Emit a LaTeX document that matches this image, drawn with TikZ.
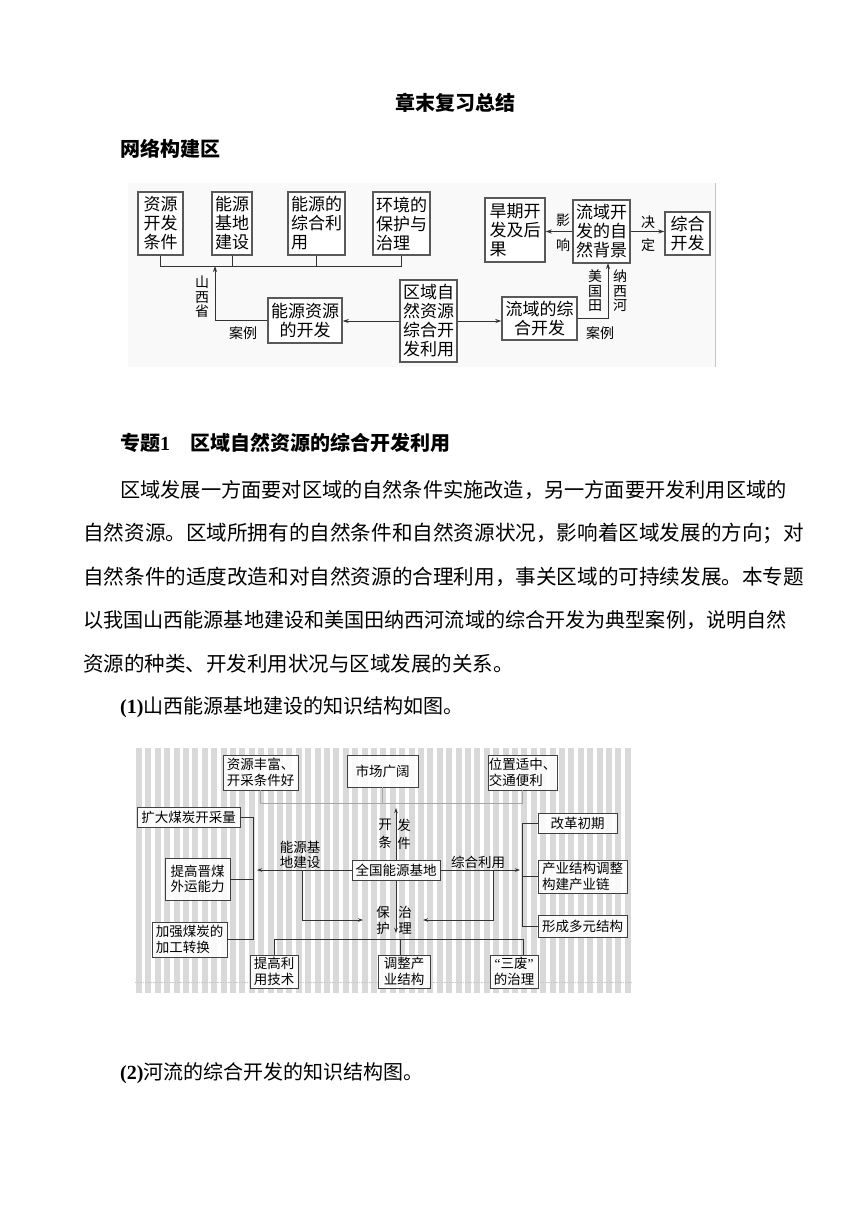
\documentclass[tikz,border=0pt]{standalone}
\usepackage{fontspec}
\setmainfont{Liberation Serif}
\newfontfamily\cjk{Noto Sans CJK SC}
\usetikzlibrary{arrows.meta}
\begin{document}
\begin{tikzpicture}[x=1pt,y=-1pt,
  tx/.style={inner sep=0pt, anchor=west},
  b1/.style={draw=black!65, line width=1.4pt, fill=white, inner sep=0pt, font=\cjk\fontsize{17}{19}\selectfont},
  l1/.style={inner sep=0pt, font=\cjk\fontsize{14}{14.5}\selectfont, align=center},
  c1/.style={draw=black!80, line width=1pt},
  a1/.style={c1, -{Stealth[length=6pt,width=4pt]}},
  b2/.style={draw=black!75, line width=0.9pt, fill=white, fill opacity=0.85, text opacity=1, inner sep=0pt, font=\cjk\fontsize{13.5}{15.5}\selectfont},
  l2/.style={inner sep=0pt, font=\cjk\fontsize{13.5}{15}\selectfont, align=center},
  c2/.style={draw=black!80, line width=0.8pt},
  a2/.style={c2, -{Stealth[length=5pt,width=3.5pt]}}]
\useasboundingbox (0,0) rectangle (860,1216);
\fill[white] (0,0) rectangle (860,1216);

% ---------- headings and text ----------
\node[inner sep=0pt, font=\cjk\bfseries\fontsize{20}{24}\selectfont] (title) at (455,103) {章末复习总结};
\node[tx, font=\cjk\bfseries\fontsize{20}{24}\selectfont] (net) at (120,149) {网络构建区};
\node[tx, font=\bfseries\fontsize{20}{24}\selectfont] (topic) at (120,443) {{\cjk 专题}1\hspace{20pt}{\cjk 区域自然资源的综合开发利用}};
\node[tx, font=\cjk\fontsize{20.2}{24}\selectfont] (p1) at (120,490) {区域发展一方面要对区域的自然条件实施改造，另一方面要开发利用区域的};
\node[tx, font=\cjk\fontsize{20.6}{24}\selectfont] (p2) at (83,533.5) {自然资源。区域所拥有的自然条件和自然资源状况，影响着区域发展的方向；对};
\node[tx, font=\cjk\fontsize{20.6}{24}\selectfont] (p3) at (83,577) {自然条件的适度改造和对自然资源的合理利用，事关区域的可持续发展。本专题};
\node[tx, font=\cjk\fontsize{20.1}{24}\selectfont] (p4) at (83,620) {以我国山西能源基地建设和美国田纳西河流域的综合开发为典型案例，说明自然};
\node[tx, font=\cjk\fontsize{20.5}{24}\selectfont] (p5) at (83,663.5) {资源的种类、开发利用状况与区域发展的关系。};
\node[tx, font=\fontsize{20}{24}\selectfont] (h1) at (120,707) {\textbf{(1)}{\cjk 山西能源基地建设的知识结构如图。}};
\node[tx, font=\fontsize{20}{24}\selectfont] (h2) at (120,1073) {\textbf{(2)}{\cjk 河流的综合开发的知识结构图。}};

% ---------- diagram 1 ----------
\fill[gray!5] (128,183) rectangle (715,367);
\draw[gray!45, line width=1pt] (715,183) -- (715,367);

\node[b1, minimum width=45, minimum height=63, align=left] (A) at (160.5,223.5) {资源\\开发\\条件};
\node[b1, minimum width=40, minimum height=63, align=left] (B) at (232,223.5) {能源\\基地\\建设};
\node[b1, minimum width=57, minimum height=63, align=left] (C) at (316.5,223.5) {能源的\\综合利\\用};
\node[b1, minimum width=57, minimum height=63, align=left] (D) at (401.5,223.5) {环境的\\保护与\\治理};
\node[b1, minimum width=74, minimum height=45, align=center] (E) at (305,320.5) {能源资源\\的开发};
\node[b1, minimum width=57, minimum height=82, align=left] (F) at (428.5,321) {区域自\\然资源\\综合开\\发利用};
\node[b1, minimum width=75, minimum height=43, align=center] (G) at (539.5,318.5) {流域的综\\合开发};
\node[b1, minimum width=60, minimum height=64, align=left] (H) at (515,230) {旱期开\\发及后\\果};
\node[b1, minimum width=57, minimum height=63, align=left] (I) at (601.5,231.5) {流域开\\发的自\\然背景};
\node[b1, minimum width=45, minimum height=43, align=left] (J) at (687.5,233.5) {综合\\开发};

\coordinate (bus1) at (0,266);
\draw[c1] (A.south) -- (A.south |- bus1) -- (D.south |- bus1) -- (D.south);
\draw[c1] (B.south) -- (B.south |- bus1);
\draw[c1] (C.south) -- (C.south |- bus1);
\coordinate (up1) at (215,266);
\draw[a1] (E.west) -| (up1);
\draw[a1] (F.west) -- (F.west -| E.east);
\draw[a1] (F.east) -- (F.east -| G.west);
\coordinate (up2) at (608,263);
\draw[a1] (G.east) -| (up2);
\draw[a1] (I.west) -- (I.west -| H.east);
\draw[a1] (I.east) -- (I.east -| J.west);

\node[l1] (sx) at (202,297) {山\\西\\省};
\node[l1] (al1) at (243,333) {案例};
\node[l1] (mg) at (595,291) {美\\国\\田};
\node[l1] (nx) at (620,291) {纳\\西\\河};
\node[l1] (al2) at (600,333) {案例};
\node[l1] (y1) at (563,220) {影};
\node[l1] (y2) at (563,245) {响};
\node[l1] (j1) at (648,222) {决};
\node[l1] (j2) at (648,245) {定};

% ---------- diagram 2 ----------
\foreach \i in {0,...,52} {\fill[gray!30] ({136+\i*9.4},748) rectangle ++(6,245);}
\draw[gray!45, line width=0.6pt, densely dotted] (135,982) -- (632,982);

\node[b2, minimum width=75, minimum height=35, align=left] (P1) at (260.5,772.5) {资源丰富、\\开采条件好};
\node[b2, minimum width=71, minimum height=32] (P2) at (382.5,771) {市场广阔};
\node[b2, minimum width=69, minimum height=35, align=left] (P3) at (522.5,772.5) {位置适中、\\交通便利};
\node[b2, minimum width=88, minimum height=20] (Q) at (396,870) {全国能源基地};
\node[b2, minimum width=103, minimum height=20] (L1) at (188.5,817) {扩大煤炭开采量};
\node[b2, minimum width=65, minimum height=42, align=left] (L2) at (197.5,879) {提高晋煤\\外运能力};
\node[b2, minimum width=75, minimum height=35, align=left] (L3) at (189.5,939.5) {加强煤炭的\\加工转换};
\node[b2, minimum width=79, minimum height=20] (R1) at (577.5,823) {改革初期};
\node[b2, minimum width=89, minimum height=33, align=left] (R2) at (582.5,876.5) {产业结构调整\\构建产业链};
\node[b2, minimum width=89, minimum height=22] (R3) at (582.5,926) {形成多元结构};
\node[b2, minimum width=48, minimum height=33, align=left] (B1) at (274,971.5) {提高利\\用技术};
\node[b2, minimum width=52, minimum height=33, align=left] (B2) at (404,971.5) {调整产\\业结构};
\node[b2, minimum width=48, minimum height=33, align=center] (B3) at (514,971.5) {{\rmfamily “}三废{\rmfamily ”}\\的治理};

\coordinate (busT) at (0,803);
\draw[c2, gray!70] (P1.south) -- (P1.south |- busT) -- (P3.south |- busT) -- (P3.south);
\draw[c2, gray!70] (P2.south) -- (P2.south |- busT);
\coordinate (qa) at (0,808);
\draw[a2] (Q.north) -- (Q.north |- qa);
\coordinate (qd) at (0,933);
\draw[a2] (Q.south) -- (Q.south |- qd);
\coordinate (b2s) at (400,939);
\coordinate (b3s) at (523,939);
\draw[c2] (B1.north) -- (B1.north |- b3s) -- (b3s) -- (b3s |- B3.north);
\draw[c2] (b2s) -- (b2s |- B2.north);

\coordinate (lb) at (257,870);
\draw[a2] (Q.west) -- (lb);
\coordinate (brL) at (253,0);
\draw[c2] (L1.east) -- (L1.east -| brL) -- (brL |- L3.east) -- (L3.east);
\draw[c2] (L2.east) -- (L2.east -| brL);
\coordinate (d1) at (302,870);
\coordinate (d1e) at (363,920);
\draw[a2] (d1) |- (d1e);

\coordinate (rb) at (520,870);
\draw[a2] (Q.east) -- (rb);
\coordinate (brR) at (522,0);
\draw[c2] (R1.west) -- (R1.west -| brR) -- (brR |- R3.west) -- (R3.west);
\draw[c2] (R2.west) -- (R2.west -| brR);
\coordinate (d2) at (493,870);
\coordinate (d2e) at (423,920);
\draw[a2] (d2) |- (d2e);

\node[l2] (lab1) at (300,855) {能源基\\地建设};
\node[l2] (lab2) at (478,862) {综合利用};
\node[l2, font=\cjk\fontsize{13.5}{18}\selectfont] (k1) at (385,834) {开\\条};
\node[l2, font=\cjk\fontsize{13.5}{18}\selectfont] (k2) at (404,834) {发\\件};
\node[l2, font=\cjk\fontsize{13.5}{16}\selectfont] (k3) at (383,920) {保\\护};
\node[l2, font=\cjk\fontsize{13.5}{16}\selectfont] (k4) at (405,920) {治\\理};
\end{tikzpicture}
\end{document}
